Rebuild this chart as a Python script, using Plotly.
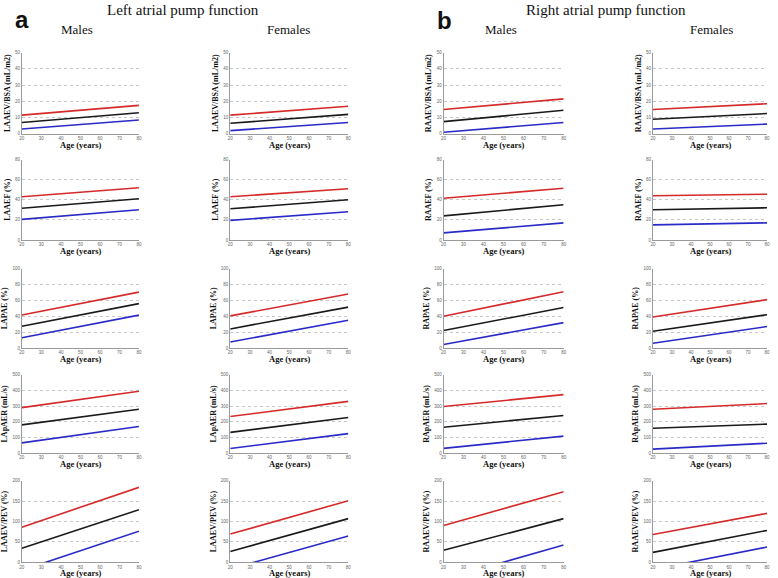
import plotly.graph_objects as go

W, H = 778, 578

ages = [20, 80]
x_ticks = [20, 30, 40, 50, 60, 70, 80]

# each panel: [upper (red), mean (black), lower (blue)] values at ages 20 and 80
la_m_aev_bsa = [[11.5, 17.5], [7.0, 13.0], [3.0, 8.5]]
la_f_aev_bsa = [[11.5, 17.0], [6.5, 12.0], [2.0, 7.0]]
ra_m_aev_bsa = [[15.0, 21.5], [7.5, 14.5], [1.0, 7.0]]
ra_f_aev_bsa = [[15.0, 18.5], [9.0, 12.5], [3.0, 6.0]]

la_m_aef = [[43.0, 52.0], [31.5, 41.0], [20.5, 30.0]]
la_f_aef = [[43.0, 51.0], [31.0, 40.0], [19.5, 28.0]]
ra_m_aef = [[41.5, 51.5], [24.0, 35.0], [7.0, 17.0]]
ra_f_aef = [[44.0, 45.5], [30.0, 32.0], [15.0, 17.0]]

la_m_pae = [[41.5, 70.5], [27.5, 56.0], [13.0, 41.5]]
la_f_pae = [[40.5, 68.0], [24.0, 51.5], [7.5, 35.0]]
ra_m_pae = [[40.0, 71.0], [22.0, 51.0], [4.5, 32.0]]
ra_f_pae = [[39.0, 61.0], [21.0, 42.0], [6.0, 27.0]]

la_m_paer = [[290, 395], [180, 280], [65, 170]]
la_f_paer = [[233, 330], [132, 227], [29, 124]]
ra_m_paer = [[297, 373], [165, 240], [30, 108]]
ra_f_paer = [[280, 316], [158, 185], [25, 63]]

la_m_pev = [[86, 184], [34, 129], [-20, 76]]
la_f_pev = [[69, 151], [26, 107], [-16.6, 64]]
ra_m_pev = [[90, 173], [29, 107], [-42, 42]]
ra_f_pev = [[68, 120], [24, 78], [-18, 37]]

row_ranges = [[0, 50], [0, 80], [0, 100], [0, 500], [0, 200]]
row_dticks = [10, 20, 20, 100, 50]
la_titles = ["LAAEV/BSA (mL/m2)", "LAAEF (%)", "LAPAE (%)", "LApAER (mL/s)", "LAAEV/PEV (%)"]
ra_titles = ["RAAEV/BSA (mL/m2)", "RAAEF (%)", "RAPAE (%)", "RApAER (mL/s)", "RAAEV/PEV (%)"]
x_title = "Age (years)"

panels = [
    [la_m_aev_bsa, la_f_aev_bsa, ra_m_aev_bsa, ra_f_aev_bsa],
    [la_m_aef, la_f_aef, ra_m_aef, ra_f_aef],
    [la_m_pae, la_f_pae, ra_m_pae, ra_f_pae],
    [la_m_paer, la_f_paer, ra_m_paer, ra_f_paer],
    [la_m_pev, la_f_pev, ra_m_pev, ra_f_pev],
]

line_colors = ["#d62a2a", "#1a1a1a", "#2a2ac8"]

# pixel layout of plot areas
col_px = [(19, 137), (229, 348), (444, 565), (655, 770)]
row_px = [(51, 133), (159, 240), (269, 349), (376, 455), (483, 565)]


def fx(px):
    return px / W


def fy(py):
    return 1 - py / H


fig = go.Figure()
layout = dict(
    width=W, height=H, margin=dict(l=0, r=0, t=0, b=0),
    paper_bgcolor="white", plot_bgcolor="white", showlegend=False,
    font=dict(family="Liberation Serif", color="#111"),
)

ann = []


def px_ann(text, x, y, size, family="Liberation Serif"):
    ann.append(dict(text=text, x=fx(x), y=fy(y), xref="paper", yref="paper",
                    showarrow=False, xanchor="center", yanchor="middle",
                    font=dict(family=family, size=size, color="#111")))


serif_bold = dict(family="Liberation Serif", size=8, color="#111")
idx = 0
for r in range(5):
    for c in range(4):
        idx += 1
        xa = "x" if idx == 1 else f"x{idx}"
        ya = "y" if idx == 1 else f"y{idx}"
        for k in range(3):
            fig.add_trace(go.Scatter(
                x=ages, y=panels[r][c][k], mode="lines",
                line=dict(color=line_colors[k], width=1.6),
                xaxis=xa, yaxis=ya, hoverinfo="skip",
            ))
        x0, x1 = col_px[c]
        y0, y1 = row_px[r]
        ytitle = (la_titles if c < 2 else ra_titles)[r]
        layout["xaxis" if idx == 1 else f"xaxis{idx}"] = dict(
            domain=[fx(x0), fx(x1)], anchor=ya, range=[20, 80],
            tickvals=x_ticks, showgrid=False, zeroline=False,
            showline=True, linecolor="#9a9a9a", linewidth=1,
            ticks="", tickfont=dict(size=4.5, color="#666", family="Liberation Sans"),
        )
        layout["yaxis" if idx == 1 else f"yaxis{idx}"] = dict(
            domain=[fy(y1), fy(y0)], anchor=xa, range=row_ranges[r],
            dtick=row_dticks[r], showgrid=True, gridcolor="#c8c8c8", griddash="dot",
            gridwidth=1, zeroline=False,
            showline=True, linecolor="#9a9a9a", linewidth=1,
            ticks="", tickfont=dict(size=4.5, color="#666", family="Liberation Sans"),
            title=dict(text=f"<b>{ytitle}</b>", standoff=3, font=serif_bold),
        )
        px_ann(f"<b>{x_title}</b>", (x0 + x1) / 2, y1 + 11, 8.5)

px_ann("<b>a</b>", 19, 18, 24, family="Liberation Sans")
px_ann("<b>b</b>", 445, 19, 24, family="Liberation Sans")
px_ann("Left atrial pump function", 181, 8, 15)
px_ann("Right atrial pump function", 608, 8, 15)
px_ann("Males", 75, 28, 13)
px_ann("Females", 288, 28, 13)
px_ann("Males", 502, 28, 13)
px_ann("Females", 714, 28, 13)
layout["annotations"] = ann

fig.update_layout(**layout)
fig.write_html(
    "out.html",
    config={"displayModeBar": False},
    post_script="document.body.style.margin='0';document.body.style.overflow='hidden';",
)
